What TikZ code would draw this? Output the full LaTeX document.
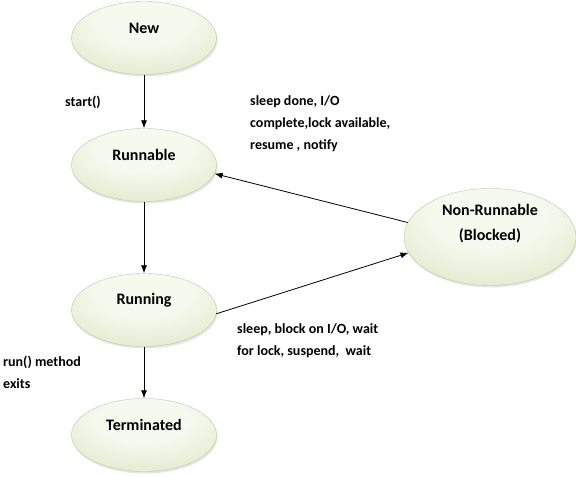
\documentclass[tikz,border=0pt]{standalone}
\usepackage{fontspec}
\setmainfont{Carlito}
\usetikzlibrary{shapes.geometric}
\usetikzlibrary{arrows.meta}
\usetikzlibrary{shadows}
\definecolor{phasein}{RGB}{246,249,238}
\definecolor{phaseout}{RGB}{200,216,165}
\definecolor{phaseline}{RGB}{188,200,165}
\pgfdeclareradialshading{phaseglow}{\pgfpoint{0bp}{14bp}}{color(0bp)=(phasein); color(16bp)=(phasein); color(60bp)=(phaseout); color(75bp)=(phaseout)}

\begin{document}
\begin{tikzpicture}[x=1pt,y=-1pt]

\tikzstyle{every node}=[font=\bfseries\fontsize{14}{22}\selectfont]
\tikzstyle{phase}=[ellipse, draw=phaseline, shading=phaseglow, minimum width=145pt, minimum height=73pt, inner sep=0pt, drop shadow={opacity=0.2, shadow xshift=1pt, shadow yshift=-2pt}]
\tikzstyle{phasename}=[yshift=10pt, font=\bfseries\fontsize{16}{24}\selectfont]
\tikzstyle{trans}=[-{Latex[length=8pt,width=6pt]}, line width=0.8pt]
\tikzstyle{note}=[anchor=west, align=left, inner sep=0pt]

\useasboundingbox (0,0) rectangle (576,478);

% states
\node [phase, label={[phasename]center:New}] (new) at (144,38) {};
\node [phase, label={[phasename]center:Runnable}] (runnable) at (144,165) {};
\node [phase, label={[phasename]center:Running}] (running) at (144,310) {};
\node [phase, label={[phasename]center:Terminated}] (terminated) at (144,435) {};
\node [phase, minimum width=172pt, minimum height=97pt, label={[phasename, yshift=3pt, align=center]center:{Non-Runnable\\[1pt](Blocked)}}] (nonrun) at (490,237) {};

% transitions
\draw [trans] (new) -- (runnable);
\draw [trans] (runnable) -- (running);
\draw [trans] (running) -- (terminated);
\draw [trans] (running.-3) -- (nonrun.191);
\draw [trans] (nonrun.170) -- (runnable.-7);

% labels
\node [note] (startlbl) at (65,102) {start()};
\node [note] (wakelbl) at (250,124) {sleep done, I/O\\complete,lock available,\\resume , notify};
\node [note] (blocklbl) at (237,341) {sleep, block on I/O, wait\\for lock, suspend,\ \ wait};
\node [note] (exitlbl) at (3,372) {run() method\\exits};

\end{tikzpicture}
\end{document}
